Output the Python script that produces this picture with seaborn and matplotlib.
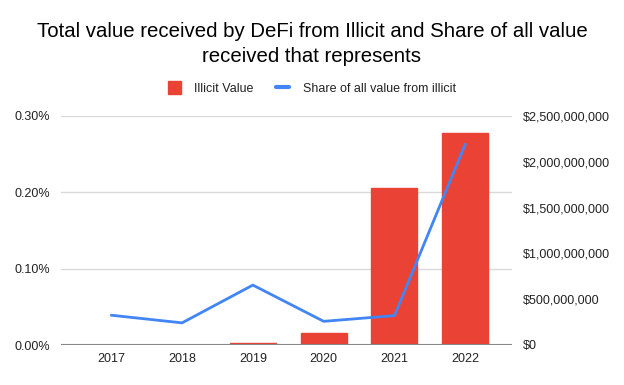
import matplotlib
matplotlib.use("Agg")
import matplotlib.pyplot as plt
import matplotlib.ticker as mticker
from matplotlib.patches import Patch
from matplotlib.lines import Line2D
import seaborn as sns
import pandas as pd

years = ["2017", "2018", "2019", "2020", "2021", "2022"]
illicit_value = [0, 0, 20_000_000, 128_000_000, 1_710_000_000, 2_310_000_000]
share_pct = [0.039, 0.029, 0.0785, 0.031, 0.0385, 0.263]

df = pd.DataFrame({"year": years, "value": illicit_value, "share": share_pct})

sns.set_theme(style="white")
plt.rcParams["font.family"] = ["Liberation Sans", "DejaVu Sans"]

fig = plt.figure(figsize=(6.24, 3.85), dpi=100)
ax = fig.add_axes([61/624, 1 - 345/385, (512-61)/624, (345-116)/385])
ax2 = ax.twinx()

RED = "#EA4335"
BLUE = "#4285F4"

sns.barplot(data=df, x="year", y="value", ax=ax2, color=RED, width=0.65,
            saturation=1, edgecolor=RED)
sns.lineplot(data=df, x="year", y="share", ax=ax, color=BLUE, linewidth=2,
             sort=False)

ax.set_ylim(0, 0.30)
ax2.set_ylim(0, 2_500_000_000)
ax.set_xlim(-0.71, 5.66)
ax.set_yticks([0, 0.1, 0.2, 0.3])
ax.yaxis.set_major_formatter(mticker.FuncFormatter(lambda v, p: f"{v:.2f}%"))
ax2.set_yticks([0, 5e8, 1e9, 1.5e9, 2e9, 2.5e9])
ax2.yaxis.set_major_formatter(mticker.FuncFormatter(lambda v, p: f"${v:,.0f}"))

# line axes drawn above the bar axes
ax.set_zorder(2)
ax2.set_zorder(1)
ax.patch.set_visible(False)
ax.grid(False)
ax2.grid(False)
# gridlines aligned with the left-axis ticks (0.1%, 0.2%, 0.3%), behind bars
for k in range(1, 4):
    ax2.axhline(2_500_000_000 * k / 3, color="#d9d9d9", linewidth=1, zorder=0)
ax2.axhline(0, color="#888888", linewidth=1.5, zorder=3)

for a in (ax, ax2):
    for s in a.spines.values():
        s.set_visible(False)
    a.set_xlabel("")
    a.set_ylabel("")
    a.tick_params(axis="both", length=0, labelsize=9, colors="#222222")
ax.tick_params(axis="y", pad=8)
ax2.tick_params(axis="y", pad=8)
ax.tick_params(axis="x", pad=6)

fig.text(0.5, 1 - 44/385, "Total value received by DeFi from Illicit and Share of all value\nreceived that represents",
         ha="center", va="center", fontsize=14.65, color="#000000", linespacing=1.4)

handles = [Patch(facecolor=RED, edgecolor=RED, label="Illicit Value"),
           Line2D([0], [0], color=BLUE, linewidth=3, label="Share of all value from illicit")]
fig.legend(handles=handles, loc="center", bbox_to_anchor=(0.5, 1 - 88/385), ncol=2,
           frameon=False, fontsize=9, handlelength=1.0, handleheight=1.2,
           columnspacing=1.8, handletextpad=1.1, labelcolor="#222222")

fig.savefig("out.png", dpi=100)
